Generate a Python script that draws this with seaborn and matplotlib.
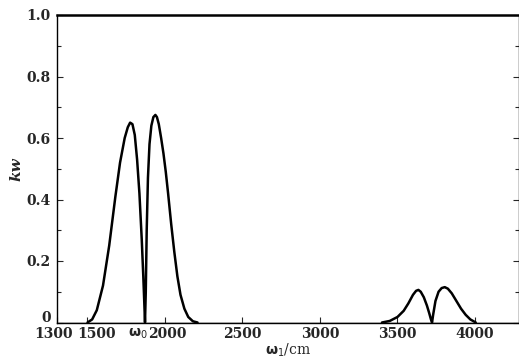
import matplotlib
matplotlib.use("Agg")
import matplotlib.pyplot as plt
import matplotlib.transforms as mtransforms
import seaborn as sns
import pandas as pd
from matplotlib.ticker import MultipleLocator

# Low-frequency double peak (split at omega_0 ~ 1871)
low_x = [1500, 1530, 1560, 1600, 1640, 1680, 1710, 1740, 1760, 1775, 1790, 1805,
         1820, 1835, 1850, 1860, 1866, 1871,
         1876, 1882, 1890, 1900, 1912, 1925, 1938, 1948, 1960, 1975, 1990, 2005,
         2020, 2040, 2060, 2080, 2100, 2125, 2150, 2180, 2210]
low_y = [0.0, 0.01, 0.04, 0.12, 0.25, 0.41, 0.52, 0.60, 0.635, 0.650, 0.645, 0.61,
         0.53, 0.42, 0.27, 0.15, 0.07, 0.0,
         0.10, 0.30, 0.47, 0.58, 0.64, 0.668, 0.675, 0.668, 0.645, 0.60, 0.55, 0.49,
         0.42, 0.32, 0.23, 0.15, 0.09, 0.045, 0.018, 0.004, 0.0]

# High-frequency double peak (split at ~3723)
high_x = [3400, 3450, 3500, 3540, 3570, 3600, 3620, 3635, 3650, 3670, 3690, 3705,
          3716, 3723, 3730, 3745, 3765, 3785, 3805, 3825, 3850, 3880, 3910, 3940,
          3970, 4005]
high_y = [0.0, 0.005, 0.018, 0.038, 0.062, 0.090, 0.103, 0.106, 0.100, 0.082, 0.055, 0.030,
          0.010, 0.0, 0.025, 0.070, 0.100, 0.112, 0.115, 0.110, 0.095, 0.070, 0.045, 0.025,
          0.010, 0.0]

base_x = [1300, 1500, 2210, 3400, 4005, 4300]
base_y = [0, 0, 0, 0, 0, 0]

xticks = [1300, 1500, 2000, 2500, 3000, 3500, 4000]
xticklabels = ["1300", "1500", "2000", "2500", "3000", "3500", "4000"]
yticks = [0, 0.2, 0.4, 0.6, 0.8, 1.0]
yticklabels = ["0", "0.2", "0.4", "0.6", "0.8", "1.0"]

sns.set_style("ticks")
plt.rcParams["font.family"] = ["DejaVu Serif"]

fig = plt.figure(figsize=(5.19, 3.62), dpi=100)
ax = fig.add_axes([56.5 / 519, 1 - 322.5 / 362, (519 - 56.5) / 519, 307.5 / 362])

df_low = pd.DataFrame({"x": low_x, "y": low_y})
df_high = pd.DataFrame({"x": high_x, "y": high_y})
df_base = pd.DataFrame({"x": base_x, "y": base_y})
sns.lineplot(data=df_base, x="x", y="y", color="black", lw=1.0, sort=False, ax=ax)
sns.lineplot(data=df_low, x="x", y="y", color="black", lw=1.8, sort=False, ax=ax)
sns.lineplot(data=df_high, x="x", y="y", color="black", lw=1.8, sort=False, ax=ax)

ax.set_xlim(1300, 4284)
ax.set_ylim(0, 1.0)
ax.set_xticks(xticks)
ax.set_xticklabels(xticklabels, fontsize=10, fontweight="bold")
ax.set_yticks(yticks)
ax.set_yticklabels(yticklabels, fontsize=10, fontweight="bold")
ax.yaxis.set_minor_locator(MultipleLocator(0.1))
ax.tick_params(axis="both", which="both", direction="in", right=True, top=False)
ax.tick_params(which="major", length=4, width=0.8)
ax.tick_params(which="minor", length=3, width=0.8)
ax.tick_params(axis="x", pad=3)
ax.tick_params(axis="y", pad=4)
for s in ax.spines.values():
    s.set_color("black")
    s.set_linewidth(1.0)
ax.spines["top"].set_linewidth(1.8)

def nudge(lbl, dx, dy):
    lbl.set_transform(lbl.get_transform() +
                      mtransforms.ScaledTranslation(dx / 100, dy / 100, fig.dpi_scale_trans))

# nudge crowded tick labels like the reference
xl = ax.get_xticklabels()
nudge(xl[0], -3, 0)
nudge(xl[1], 9, 0)
nudge(xl[2], 2, 0)
yl = ax.get_yticklabels()
nudge(yl[0], 0, 6)

ax.set_xlabel(r"$\mathbf{\omega}_1$/cm", fontsize=10, labelpad=1)
ax.set_ylabel("kw", fontsize=11, fontstyle="italic", fontweight="bold", labelpad=2)
trans = mtransforms.blended_transform_factory(ax.transData, ax.transAxes)
ax.text(1826, -0.012, r"$\mathbf{\omega}_0$", fontsize=10, ha="center", va="top",
        transform=trans, clip_on=False)

fig.savefig("out.png", dpi=100)
